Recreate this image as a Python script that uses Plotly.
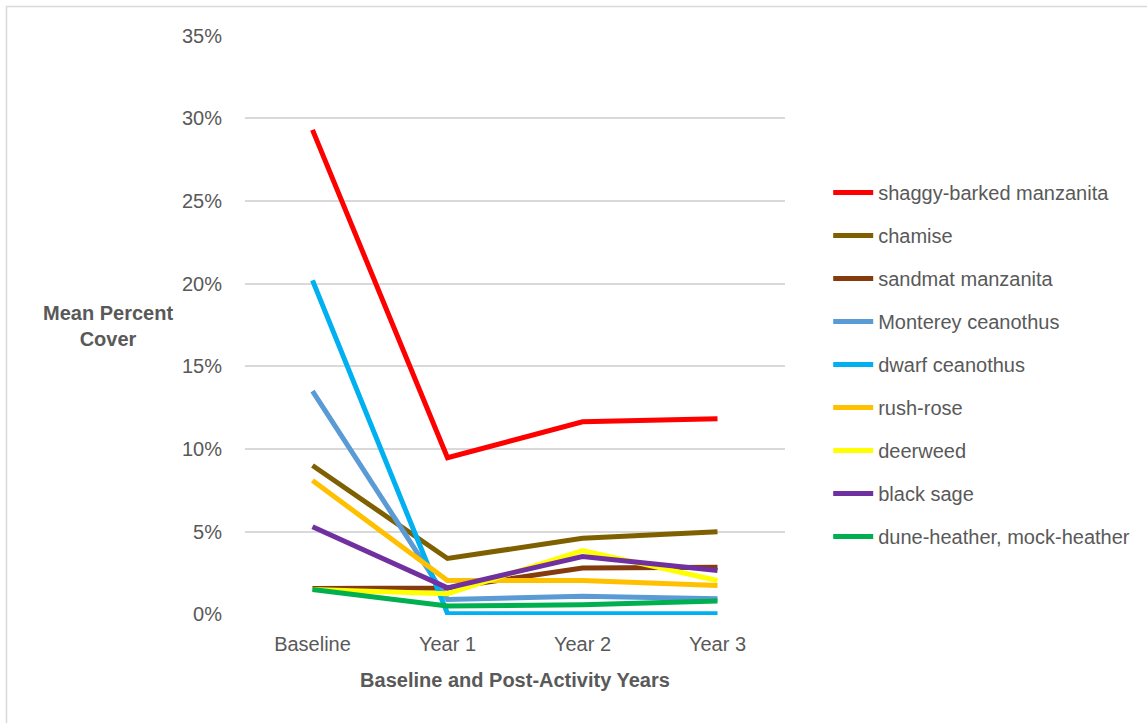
import plotly.graph_objects as go

years = ["Baseline", "Year 1", "Year 2", "Year 3"]
species = ["shaggy-barked manzanita", "chamise", "sandmat manzanita", "Monterey ceanothus",
           "dwarf ceanothus", "rush-rose", "deerweed", "black sage", "dune-heather, mock-heather"]
shaggy = [0.293, 0.0947, 0.1165, 0.1183]
chamise = [0.090, 0.0338, 0.046, 0.050]
sandmat = [0.0157, 0.016, 0.028, 0.0285]
monterey = [0.135, 0.009, 0.011, 0.0095]
dwarf = [0.202, 0.0005, 0.0003, 0.0003]
rushrose = [0.081, 0.0205, 0.0205, 0.0175]
deerweed = [0.015, 0.0125, 0.0386, 0.0205]
blacksage = [0.053, 0.016, 0.035, 0.0265]
duneheather = [0.015, 0.005, 0.0058, 0.008]
colors = ["#FF0000", "#7F6000", "#843C0C", "#5B9BD5", "#00B0F0", "#FFC000", "#FFFF00", "#7030A0", "#00B050"]

series = [shaggy, chamise, sandmat, monterey, dwarf, rushrose, deerweed, blacksage, duneheather]

FONT = "Liberation Sans, Arial, sans-serif"
GRAY = "#595959"

fig = go.Figure()
for name, vals, c in zip(species, series, colors):
    fig.add_trace(go.Scatter(x=years, y=vals, name=name, mode="lines", legendgroup=name,
                             line=dict(color=c, width=5)))

fig.update_layout(
    width=1147, height=723,
    paper_bgcolor="white", plot_bgcolor="white",
    margin=dict(l=245, r=362, t=35, b=108),
    font=dict(family=FONT, size=20, color=GRAY),
    showlegend=True,
    legend=dict(x=1.08, y=0.762, xanchor="left", yanchor="top",
                font=dict(family=FONT, size=20, color=GRAY),
                tracegroupgap=14, itemwidth=40, bgcolor="rgba(0,0,0,0)"),
    xaxis=dict(showgrid=False, zeroline=False, showline=False, ticks="",
               range=[-0.5, 3.5], ticklabelstandoff=15,
               tickfont=dict(size=20, color=GRAY),
               title=dict(text="<b>Baseline and Post-Activity Years</b>", standoff=18,
                          font=dict(size=20, color=GRAY))),
    yaxis=dict(range=[-0.0004, 0.3504], tickvals=[0, 0.05, 0.10, 0.15, 0.20, 0.25, 0.30, 0.35],
               tickformat=".0%", showgrid=True,
               gridcolor="#D9D9D9", gridwidth=1.5, zeroline=False, showline=False,
               ticks="", ticklabelstandoff=22, tickfont=dict(size=20, color=GRAY)),
    annotations=[dict(text="<b>Mean Percent<br>Cover</b>", xref="paper", yref="paper",
                      x=-0.2537, y=0.498, showarrow=False, align="center",
                      xanchor="center", yanchor="middle",
                      font=dict(size=20, color=GRAY))],
    shapes=[dict(type="rect", xref="paper", yref="paper", x0=(6.5 - 245) / 540, x1=1.8,
                 y0=-0.3, y1=(615 - 6.5) / 580, line=dict(color="#D9D9D9", width=1.5))],
)

fig.write_html("out.html", config={"displayModeBar": False},
               post_script="document.body.style.margin='0';")
